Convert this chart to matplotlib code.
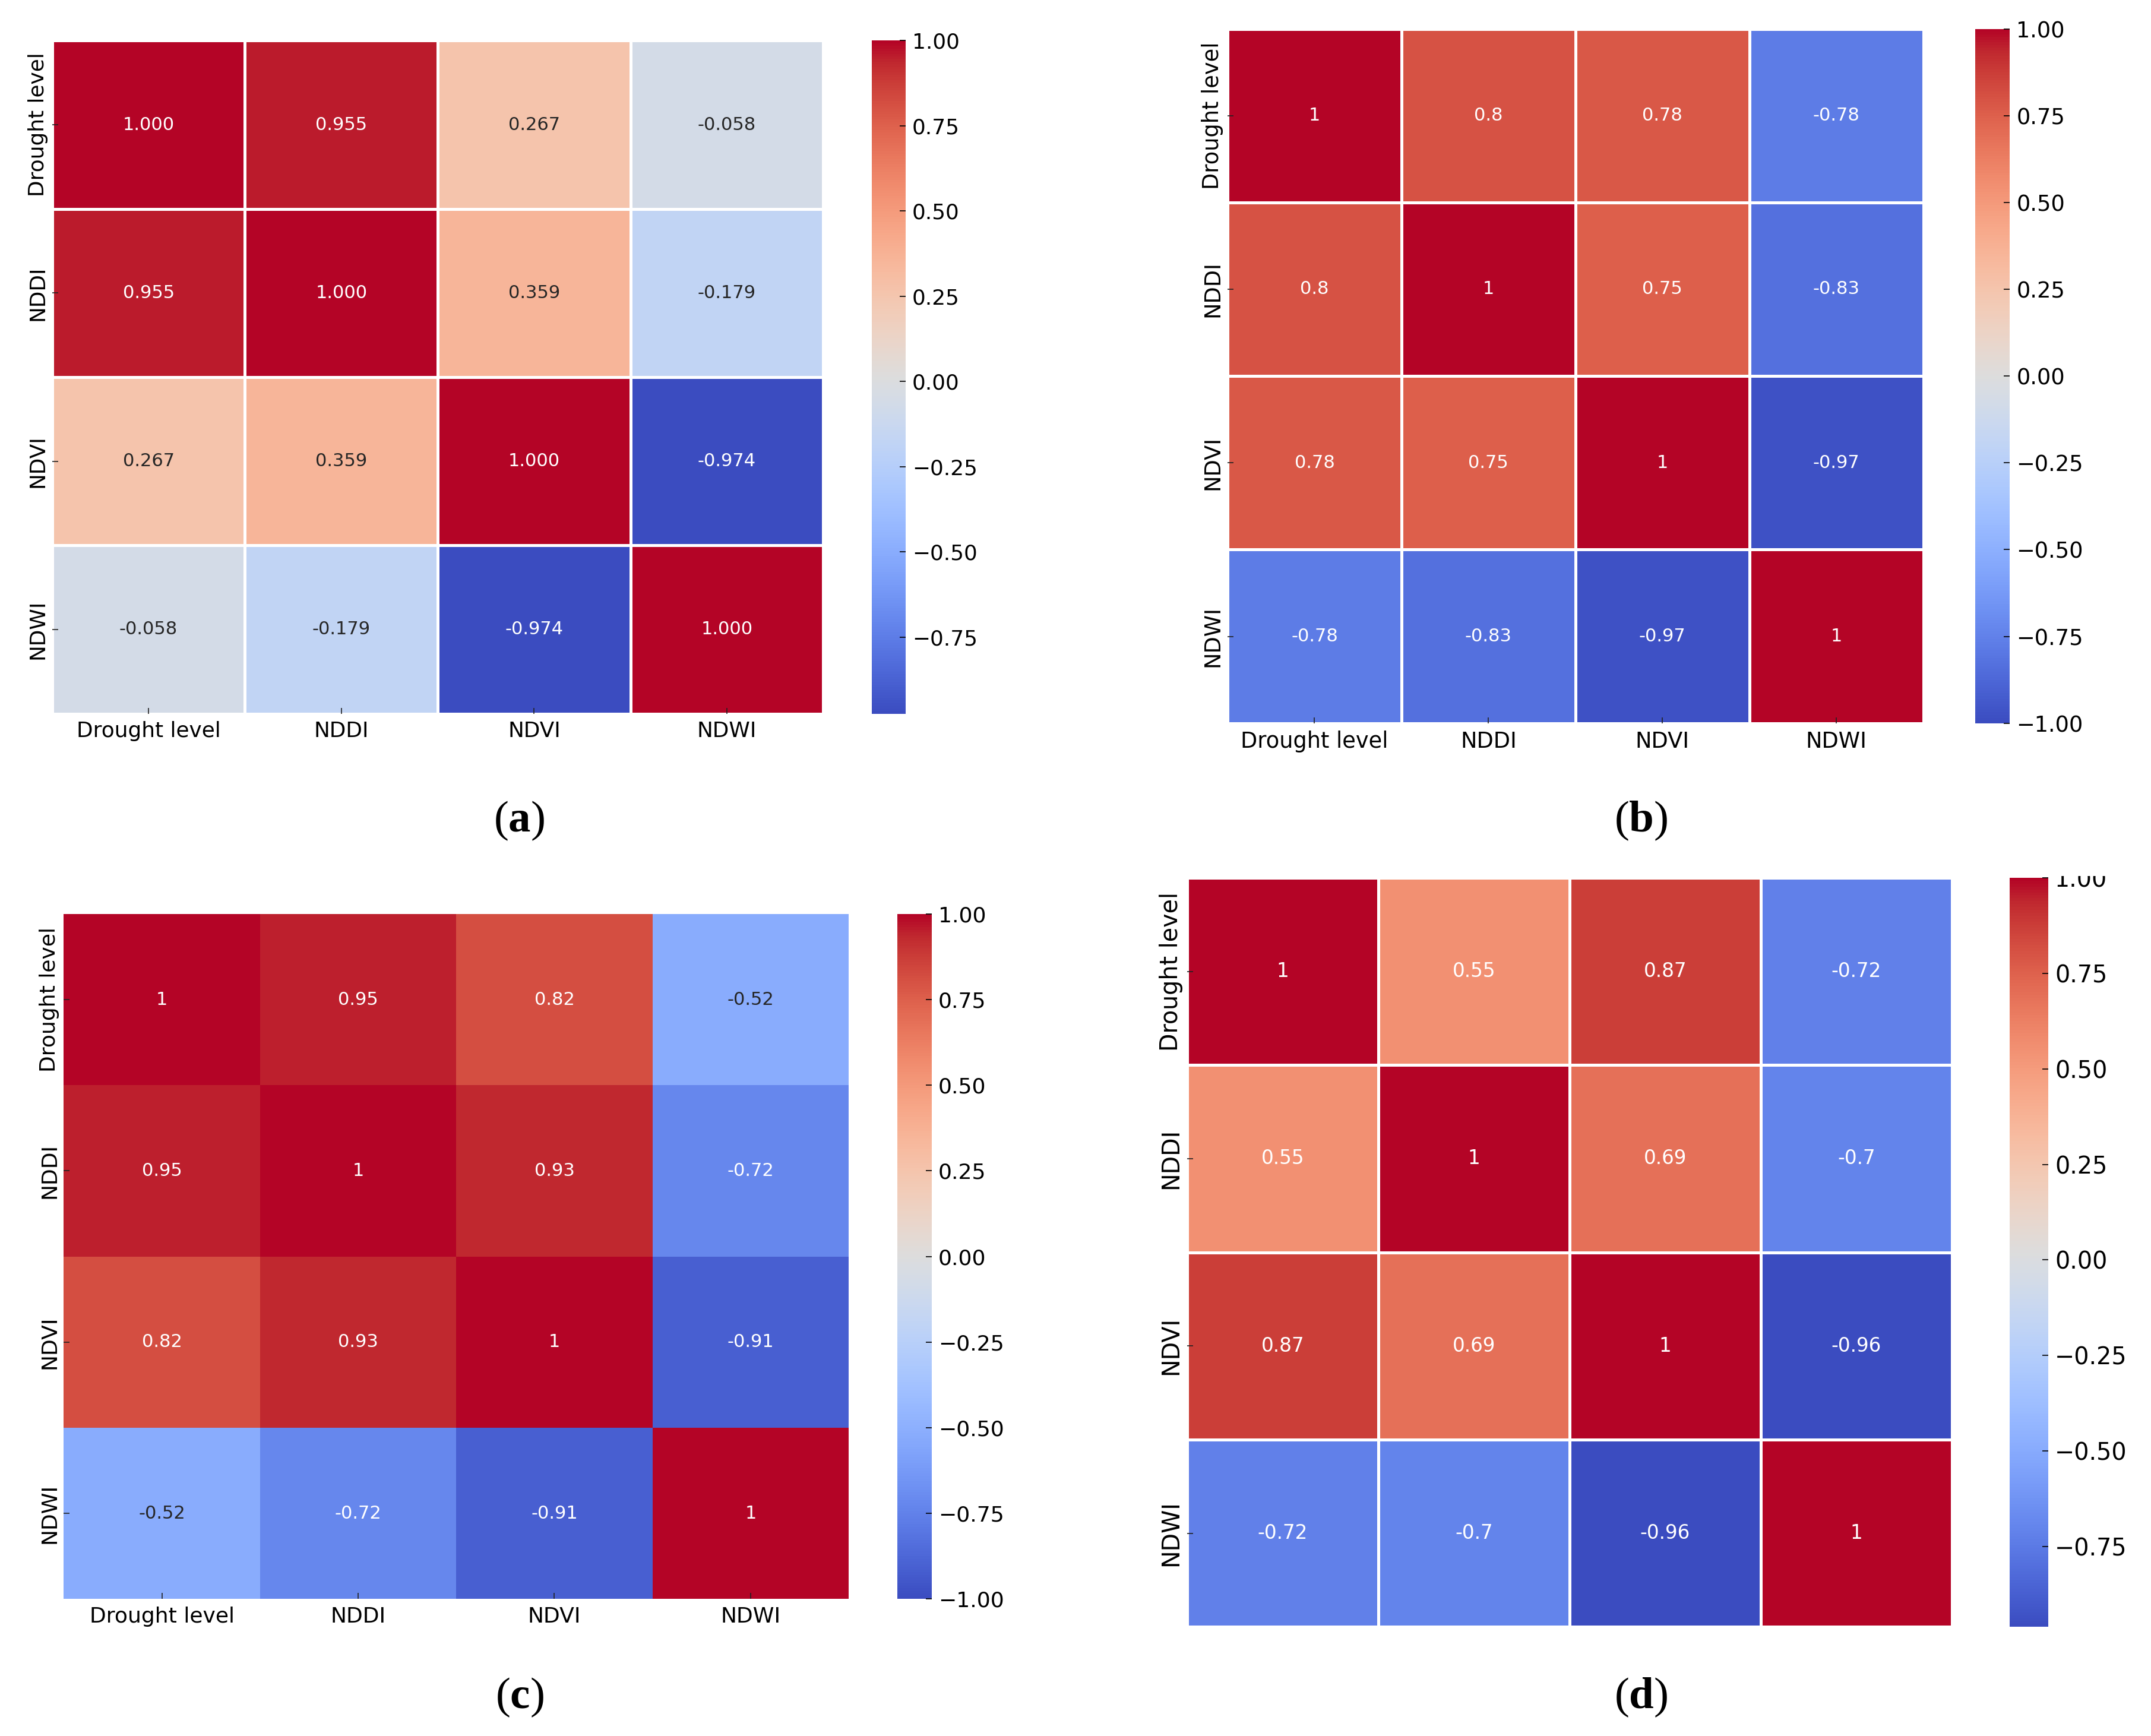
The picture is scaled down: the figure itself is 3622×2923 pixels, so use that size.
import numpy as np
import matplotlib
matplotlib.use("Agg")
import matplotlib.pyplot as plt
import matplotlib.transforms as mtransforms
import seaborn as sns

plt.rcParams['font.family'] = ['DejaVu Sans']
plt.rcParams['mathtext.fontset'] = 'custom'
plt.rcParams['mathtext.rm'] = 'Liberation Serif'
plt.rcParams['mathtext.bf'] = 'Liberation Serif:bold'

# data
labels = ["Drought level", "NDDI", "NDVI", "NDWI"]
corr_a = [[1.000, 0.955, 0.267, -0.058],
          [0.955, 1.000, 0.359, -0.179],
          [0.267, 0.359, 1.000, -0.974],
          [-0.058, -0.179, -0.974, 1.000]]
corr_b = [[1, 0.8, 0.78, -0.78],
          [0.8, 1, 0.75, -0.83],
          [0.78, 0.75, 1, -0.97],
          [-0.78, -0.83, -0.97, 1]]
corr_c = [[1, 0.95, 0.82, -0.52],
          [0.95, 1, 0.93, -0.72],
          [0.82, 0.93, 1, -0.91],
          [-0.52, -0.72, -0.91, 1]]
corr_d = [[1, 0.55, 0.87, -0.72],
          [0.55, 1, 0.69, -0.7],
          [0.87, 0.69, 1, -0.96],
          [-0.72, -0.7, -0.96, 1]]
ticks_auto = [-0.75, -0.5, -0.25, 0.0, 0.25, 0.5, 0.75, 1.0]
ticks_full = [-1.0, -0.75, -0.5, -0.25, 0.0, 0.25, 0.5, 0.75, 1.0]
captions = ["a", "b", "c", "d"]

fig = plt.figure(figsize=(36.23, 29.23), dpi=100)

S, H = 1568.0, 1265.0  # layout measured on a 1568 px wide copy


def rect(x0, y0, x1, y1):
    return [x0 / S, 1 - y1 / H, (x1 - x0) / S, (y1 - y0) / H]


panels = [
    # data, vmin, vmax, fmt, lw, heatmap box, cbar box, cbar ticks, tick size, annot size, caption pos
    (corr_a, None, None, ".3f", 2.5, (38, 29.6, 600, 520), (635.5, 29.6, 660, 520), ticks_auto, 25.8, 22, (378.5, 598)),
    (corr_b, -1, 1, ".2g", 2.5, (894.6, 21, 1401.6, 527), (1439.6, 21, 1464.6, 527), ticks_full, 26.5, 22, (1196, 598)),
    (corr_c, -1, 1, ".2g", 0, (46.5, 666, 618.5, 1165.2), (654, 666, 679, 1165.2), ticks_full, 26, 22, (378.5, 1237)),
    (corr_d, None, None, ".2g", 2.5, (865, 639.6, 1422.6, 1185.5), (1464.6, 639.6, 1492.6, 1185.5), ticks_auto, 28.5, 23.5, (1196, 1237)),
]

cax_d = None
for i, (data, vmin, vmax, fmt, lw, hbox, cbox, cticks, tsize, asize, cpos) in enumerate(panels):
    ax = fig.add_axes(rect(*hbox))
    cax = fig.add_axes(rect(*cbox))
    sns.heatmap(np.array(data), ax=ax, cbar_ax=cax, cmap="coolwarm", vmin=vmin, vmax=vmax,
                annot=True, fmt=fmt, annot_kws={"size": asize},
                linewidths=lw, linecolor="white",
                xticklabels=labels, yticklabels=labels)
    ax.tick_params(axis="both", direction="in", length=7.5, width=1.2, color="#222222")
    ax.tick_params(axis="x", pad=9, labelsize=tsize)
    ax.tick_params(axis="y", pad=5, labelsize=tsize)
    plt.setp(ax.get_xticklabels(), rotation=0)
    plt.setp(ax.get_yticklabels(), rotation=90, va="center")

    cax.set_yticks(cticks)
    cax.tick_params(direction="in", length=7.5, width=1.2, pad=8, labelsize=tsize)

    if i == 3:
        ax.tick_params(axis="x", bottom=False, labelbottom=False)
        cax_d = cax

    fig.text(cpos[0] / S, 1 - cpos[1] / H, "($\\mathbf{%s}$)" % captions[i],
             family="Liberation Serif", fontsize=54, ha="center", va="center")

# top of the "1.00" label of (d) is cut off in the source picture
fig.canvas.draw()
clip = mtransforms.TransformedBbox(
    mtransforms.Bbox([[0, 0], [1, 1 - 638.4 / H]]), fig.transFigure)
for t in cax_d.yaxis.get_major_ticks():
    if abs(t.get_loc() - 1.0) < 1e-6:
        for lab in (t.label1, t.label2):
            lab.set_clip_box(clip)
            lab.set_clip_on(True)

fig.savefig("out.png", dpi=100)
